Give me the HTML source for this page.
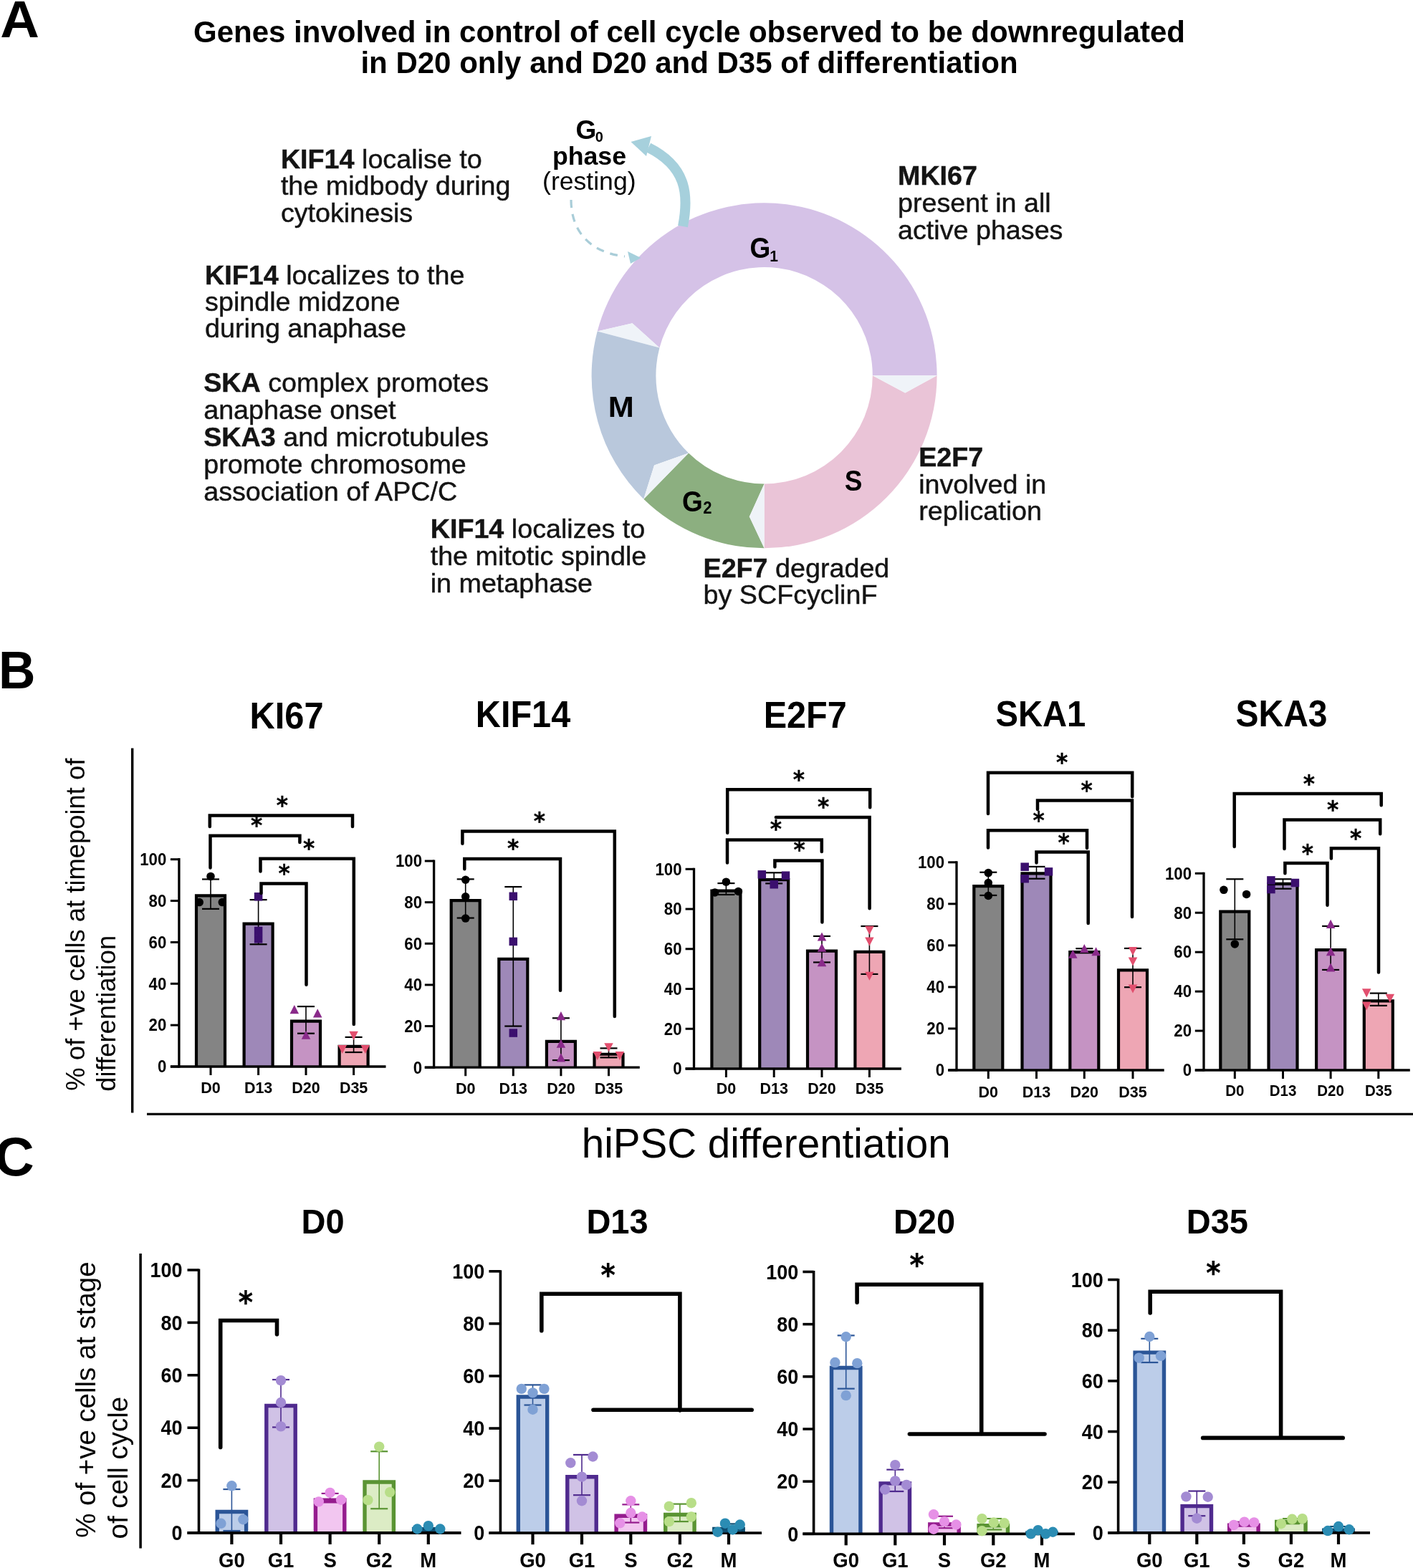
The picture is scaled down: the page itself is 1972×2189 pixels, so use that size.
<!DOCTYPE html>
<html><head><meta charset="utf-8"><title>Figure</title>
<style>html,body{margin:0;padding:0;background:#fff;}svg{display:block;}</style>
</head><body>
<svg xmlns="http://www.w3.org/2000/svg" width="1972" height="2189" viewBox="0 0 1972 2189" font-family="'Liberation Sans', Arial, Helvetica, sans-serif">
<rect width="100%" height="100%" fill="#fff"/>
<text transform="translate(0.2,51.9) scale(1.045,1)" font-size="72.4" font-weight="bold">A</text>
<text transform="translate(-2,960.8) scale(0.965,1)" font-size="73.8" font-weight="bold">B</text>
<text x="-7.6" y="1640.6" font-size="76.5" font-weight="bold" text-anchor="start" fill="#000">C</text>
<text x="962" y="58.5" font-size="42" font-weight="bold" text-anchor="middle" fill="#000">Genes involved in control of cell cycle observed to be downregulated</text>
<text x="962" y="102" font-size="42" font-weight="bold" text-anchor="middle" fill="#000">in D20 only and D20 and D35 of differentiation</text>
<path d="M833.65,462.53 A241,241 0 0 1 1307.6,524.3 L1217.8,524.3 A151.2,151.2 0 0 0 920.45,485.55 L882.47,451.21 Z" fill="#d5c2e7"/>
<path d="M833.65,462.53 L882.47,451.21 L920.45,485.55 Z" fill="#eff3f8"/>
<path d="M1307.6,524.3 A241,241 0 0 1 1066.6,765.3 L1066.6,675.5 A151.2,151.2 0 0 0 1217.8,524.3 L1263.22,548.44 Z" fill="#eac4d7"/>
<path d="M1307.6,524.3 L1263.22,548.44 L1217.8,524.3 Z" fill="#eff3f8"/>
<path d="M1066.6,765.3 A241,241 0 0 1 898.28,696.78 L961,632.51 A151.2,151.2 0 0 0 1066.6,675.5 L1045.89,721.31 Z" fill="#8caf80"/>
<path d="M1066.6,765.3 L1045.89,721.31 L1066.6,675.5 Z" fill="#eff3f8"/>
<path d="M898.28,696.78 A241,241 0 0 1 833.65,462.53 L920.45,485.55 A151.2,151.2 0 0 0 961,632.51 L913.08,649.51 Z" fill="#b9c8dc"/>
<path d="M898.28,696.78 L913.08,649.51 L961,632.51 Z" fill="#eff3f8"/>
<text transform="translate(1046.5,360.4) scale(1,1.08)" font-size="37" font-weight="bold" text-anchor="start">G<tspan font-size="21" dy="3.9" dx="-1">1</tspan></text>
<text transform="translate(952,713.5) scale(1,1.1)" font-size="37" font-weight="bold" text-anchor="start">G<tspan font-size="22" dy="3.2" dx="0.5">2</tspan></text>
<text transform="translate(1191,685) scale(1,1.1)" font-size="37" font-weight="bold" text-anchor="middle">S</text>
<text transform="translate(866.9,581.9) scale(1.17,1.1)" font-size="37" font-weight="bold" text-anchor="middle">M</text>
<path d="M953,316 C962,270 957,232 905,206" fill="none" stroke="#a6d0dc" stroke-width="14"/>
<path d="M880.5,198 L909,190 L902,218 Z" fill="#a6d0dc"/>
<path d="M797,279 C797,320 820,352 872,358" fill="none" stroke="#a9cdd8" stroke-width="3.2" stroke-dasharray="11,9"/>
<path d="M894.5,360 L876,351 L880,368 Z" fill="#a6d0dc"/>
<text x="803.5" y="193.6" font-size="37" font-weight="bold" text-anchor="start" fill="#000">G<tspan font-size="20" dy="4" dx="-1.5">0</tspan></text>
<text x="822.5" y="230" font-size="35.7" font-weight="bold" text-anchor="middle" fill="#000">phase</text>
<text x="822.3" y="264.5" font-size="35.6" text-anchor="middle" fill="#000">(resting)</text>
<text x="391.9" y="235" font-size="37.7" fill="#141414" stroke="#141414" stroke-width="0.45"><tspan font-weight="bold">KIF14</tspan> localise to</text>
<text x="391.9" y="272.35" font-size="37.7" fill="#141414" stroke="#141414" stroke-width="0.45">the midbody during</text>
<text x="391.9" y="309.7" font-size="37.7" fill="#141414" stroke="#141414" stroke-width="0.45">cytokinesis</text>
<text x="286.1" y="397" font-size="37.7" fill="#141414" stroke="#141414" stroke-width="0.45"><tspan font-weight="bold">KIF14</tspan> localizes to the</text>
<text x="286.1" y="434.1" font-size="37.7" fill="#141414" stroke="#141414" stroke-width="0.45">spindle midzone</text>
<text x="286.1" y="471.2" font-size="37.7" fill="#141414" stroke="#141414" stroke-width="0.45">during anaphase</text>
<text x="284.2" y="547.3" font-size="37.7" fill="#141414" stroke="#141414" stroke-width="0.45"><tspan font-weight="bold">SKA</tspan> complex promotes</text>
<text x="284.2" y="585.1" font-size="37.7" fill="#141414" stroke="#141414" stroke-width="0.45">anaphase onset</text>
<text x="284.2" y="622.9" font-size="37.7" fill="#141414" stroke="#141414" stroke-width="0.45"><tspan font-weight="bold">SKA3</tspan> and microtubules</text>
<text x="284.2" y="660.7" font-size="37.7" fill="#141414" stroke="#141414" stroke-width="0.45">promote chromosome</text>
<text x="284.2" y="698.5" font-size="37.7" fill="#141414" stroke="#141414" stroke-width="0.45">association of APC/C</text>
<text x="600.7" y="750.5" font-size="37.7" fill="#141414" stroke="#141414" stroke-width="0.45"><tspan font-weight="bold">KIF14</tspan> localizes to</text>
<text x="600.7" y="788.7" font-size="37.7" fill="#141414" stroke="#141414" stroke-width="0.45">the mitotic spindle</text>
<text x="600.7" y="826.9" font-size="37.7" fill="#141414" stroke="#141414" stroke-width="0.45">in metaphase</text>
<text x="981.5" y="806.2" font-size="37.7" fill="#141414" stroke="#141414" stroke-width="0.45"><tspan font-weight="bold">E2F7</tspan> degraded</text>
<text x="981.5" y="843.1" font-size="37.7" fill="#141414" stroke="#141414" stroke-width="0.45">by SCFcyclinF</text>
<text x="1282.2" y="650.8" font-size="37.7" fill="#141414" stroke="#141414" stroke-width="0.45"><tspan font-weight="bold">E2F7</tspan></text>
<text x="1282.2" y="688.5" font-size="37.7" fill="#141414" stroke="#141414" stroke-width="0.45">involved in</text>
<text x="1282.2" y="726.2" font-size="37.7" fill="#141414" stroke="#141414" stroke-width="0.45">replication</text>
<text x="1253" y="258.3" font-size="37.7" fill="#141414" stroke="#141414" stroke-width="0.45"><tspan font-weight="bold">MKI67</tspan></text>
<text x="1253" y="296.3" font-size="37.7" fill="#141414" stroke="#141414" stroke-width="0.45">present in all</text>
<text x="1253" y="334.3" font-size="37.7" fill="#141414" stroke="#141414" stroke-width="0.45">active phases</text>
<line x1="184.7" y1="1044.4" x2="184.7" y2="1553.6" stroke="#000" stroke-width="3.4" stroke-linecap="butt"/>
<line x1="205" y1="1555.4" x2="1972" y2="1555.4" stroke="#000" stroke-width="3.2" stroke-linecap="butt"/>
<text x="1069.2" y="1616.2" font-size="56.6" text-anchor="middle" fill="#000">hiPSC differentiation</text>
<text transform="translate(117.6,1522.8) rotate(-90)" font-size="36.4" fill="#000">% of +ve cells at timepoint of</text>
<text transform="translate(161,1523.7) rotate(-90)" font-size="36.4" fill="#000">differentiation</text>
<text transform="translate(400,1016.5) scale(1,1.07)" font-size="48.8" font-weight="bold" text-anchor="middle" fill="#000">KI67</text>
<path d="M274,1489 L274,1250.33 L314,1250.33 L314,1489" fill="#848484" stroke="#000" stroke-width="4.2"/>
<path d="M340.6,1489 L340.6,1289.67 L380.6,1289.67 L380.6,1489" fill="#9e88b8" stroke="#000" stroke-width="4.2"/>
<path d="M407,1489 L407,1425.64 L447,1425.64 L447,1489" fill="#c593c3" stroke="#000" stroke-width="4.2"/>
<path d="M473.6,1489 L473.6,1460.94 L513.6,1460.94 L513.6,1489" fill="#eea6b4" stroke="#000" stroke-width="4.2"/>
<line x1="249.9" y1="1198.1" x2="249.9" y2="1490.6" stroke="#000" stroke-width="3.3" stroke-linecap="butt"/>
<line x1="237.9" y1="1489" x2="538.5" y2="1489" stroke="#000" stroke-width="3.3" stroke-linecap="butt"/>
<line x1="237.9" y1="1489" x2="249.9" y2="1489" stroke="#000" stroke-width="3" stroke-linecap="butt"/>
<text transform="translate(232.3,1497.3) scale(1,1.05)" font-size="22.2" font-weight="bold" text-anchor="end" fill="#000">0</text>
<line x1="237.9" y1="1431.14" x2="249.9" y2="1431.14" stroke="#000" stroke-width="3" stroke-linecap="butt"/>
<text transform="translate(232.3,1439.44) scale(1,1.05)" font-size="22.2" font-weight="bold" text-anchor="end" fill="#000">20</text>
<line x1="237.9" y1="1373.28" x2="249.9" y2="1373.28" stroke="#000" stroke-width="3" stroke-linecap="butt"/>
<text transform="translate(232.3,1381.58) scale(1,1.05)" font-size="22.2" font-weight="bold" text-anchor="end" fill="#000">40</text>
<line x1="237.9" y1="1315.42" x2="249.9" y2="1315.42" stroke="#000" stroke-width="3" stroke-linecap="butt"/>
<text transform="translate(232.3,1323.72) scale(1,1.05)" font-size="22.2" font-weight="bold" text-anchor="end" fill="#000">60</text>
<line x1="237.9" y1="1257.56" x2="249.9" y2="1257.56" stroke="#000" stroke-width="3" stroke-linecap="butt"/>
<text transform="translate(232.3,1265.86) scale(1,1.05)" font-size="22.2" font-weight="bold" text-anchor="end" fill="#000">80</text>
<line x1="237.9" y1="1199.7" x2="249.9" y2="1199.7" stroke="#000" stroke-width="3" stroke-linecap="butt"/>
<text transform="translate(232.3,1208) scale(1,1.05)" font-size="22.2" font-weight="bold" text-anchor="end" fill="#000">100</text>
<line x1="294" y1="1489" x2="294" y2="1501" stroke="#000" stroke-width="3" stroke-linecap="butt"/>
<text transform="translate(294,1526.4) scale(1,1.04)" font-size="21.5" font-weight="bold" text-anchor="middle" fill="#000">D0</text>
<line x1="360.6" y1="1489" x2="360.6" y2="1501" stroke="#000" stroke-width="3" stroke-linecap="butt"/>
<text transform="translate(360.6,1526.4) scale(1,1.04)" font-size="21.5" font-weight="bold" text-anchor="middle" fill="#000">D13</text>
<line x1="427" y1="1489" x2="427" y2="1501" stroke="#000" stroke-width="3" stroke-linecap="butt"/>
<text transform="translate(427,1526.4) scale(1,1.04)" font-size="21.5" font-weight="bold" text-anchor="middle" fill="#000">D20</text>
<line x1="493.6" y1="1489" x2="493.6" y2="1501" stroke="#000" stroke-width="3" stroke-linecap="butt"/>
<text transform="translate(493.6,1526.4) scale(1,1.04)" font-size="21.5" font-weight="bold" text-anchor="middle" fill="#000">D35</text>
<line x1="294" y1="1268.84" x2="294" y2="1227.47" stroke="#000" stroke-width="1.6" stroke-linecap="butt"/>
<line x1="282" y1="1227.47" x2="306" y2="1227.47" stroke="#000" stroke-width="2.2" stroke-linecap="butt"/>
<line x1="282" y1="1268.84" x2="306" y2="1268.84" stroke="#000" stroke-width="2.2" stroke-linecap="butt"/>
<line x1="360.6" y1="1318.31" x2="360.6" y2="1256.11" stroke="#000" stroke-width="1.6" stroke-linecap="butt"/>
<line x1="348.6" y1="1256.11" x2="372.6" y2="1256.11" stroke="#000" stroke-width="2.2" stroke-linecap="butt"/>
<line x1="348.6" y1="1318.31" x2="372.6" y2="1318.31" stroke="#000" stroke-width="2.2" stroke-linecap="butt"/>
<line x1="427" y1="1442.71" x2="427" y2="1405.1" stroke="#000" stroke-width="1.6" stroke-linecap="butt"/>
<line x1="415" y1="1405.1" x2="439" y2="1405.1" stroke="#000" stroke-width="2.2" stroke-linecap="butt"/>
<line x1="415" y1="1442.71" x2="439" y2="1442.71" stroke="#000" stroke-width="2.2" stroke-linecap="butt"/>
<line x1="493.6" y1="1469.04" x2="493.6" y2="1447.92" stroke="#000" stroke-width="1.6" stroke-linecap="butt"/>
<line x1="481.6" y1="1447.92" x2="505.6" y2="1447.92" stroke="#000" stroke-width="2.2" stroke-linecap="butt"/>
<line x1="481.6" y1="1469.04" x2="505.6" y2="1469.04" stroke="#000" stroke-width="2.2" stroke-linecap="butt"/>
<circle cx="294" cy="1223.42" r="5.75" fill="#000000"/>
<circle cx="278.2" cy="1259.59" r="5.75" fill="#000000"/>
<circle cx="310.3" cy="1259.59" r="5.75" fill="#000000"/>
<rect x="354.85" y="1246.02" width="11.5" height="11.5" fill="#3b0f6e"/>
<rect x="354.85" y="1293.76" width="11.5" height="11.5" fill="#3b0f6e"/>
<rect x="354.85" y="1305.04" width="11.5" height="11.5" fill="#3b0f6e"/>
<path d="M410.8,1403.12 L417.05,1415.2 L404.55,1415.2 Z" fill="#8a2a8a"/>
<path d="M443.2,1408.33 L449.45,1420.4 L436.95,1420.4 Z" fill="#8a2a8a"/>
<path d="M427,1438.7 L433.25,1450.78 L420.75,1450.78 Z" fill="#8a2a8a"/>
<path d="M493.6,1451.93 L499.85,1439.85 L487.35,1439.85 Z" fill="#e24f6e"/>
<path d="M477.8,1471.02 L484.05,1458.95 L471.55,1458.95 Z" fill="#e24f6e"/>
<path d="M509.8,1471.02 L516.05,1458.95 L503.55,1458.95 Z" fill="#e24f6e"/>
<path d="M292.8,1154 L292.8,1138.5 L492,1138.5 L492,1154" fill="none" stroke="#000" stroke-width="4.5" stroke-linecap="round" stroke-linejoin="miter"/>
<text transform="translate(393.7,1120) scale(0.94,1)" x="-8.42" y="16.04" font-size="33" font-family="'DejaVu Sans', sans-serif" font-weight="bold" stroke="#000" stroke-width="0.35">*</text>
<path d="M293.5,1211.5 L293.5,1166.8 L418.4,1166.8 L418.4,1176" fill="none" stroke="#000" stroke-width="4.5" stroke-linecap="round" stroke-linejoin="miter"/>
<text transform="translate(357.8,1147.6) scale(0.94,1)" x="-8.42" y="16.04" font-size="33" font-family="'DejaVu Sans', sans-serif" font-weight="bold" stroke="#000" stroke-width="0.35">*</text>
<path d="M363.5,1216.6 L363.5,1198.8 L493.8,1198.8 L493.8,1430" fill="none" stroke="#000" stroke-width="4.5" stroke-linecap="round" stroke-linejoin="miter"/>
<text transform="translate(430.8,1179.6) scale(0.94,1)" x="-8.42" y="16.04" font-size="33" font-family="'DejaVu Sans', sans-serif" font-weight="bold" stroke="#000" stroke-width="0.35">*</text>
<path d="M364.5,1247 L364.5,1233.4 L427.5,1233.4 L427.5,1374.8" fill="none" stroke="#000" stroke-width="4.5" stroke-linecap="round" stroke-linejoin="miter"/>
<text transform="translate(396.5,1215) scale(0.94,1)" x="-8.42" y="16.04" font-size="33" font-family="'DejaVu Sans', sans-serif" font-weight="bold" stroke="#000" stroke-width="0.35">*</text>
<text transform="translate(730,1015.4) scale(1,1.07)" font-size="48.6" font-weight="bold" text-anchor="middle" fill="#000">KIF14</text>
<path d="M629.7,1490.2 L629.7,1257.05 L669.7,1257.05 L669.7,1490.2" fill="#848484" stroke="#000" stroke-width="4.2"/>
<path d="M696.3,1490.2 L696.3,1338.89 L736.3,1338.89 L736.3,1490.2" fill="#9e88b8" stroke="#000" stroke-width="4.2"/>
<path d="M762.9,1490.2 L762.9,1453.89 L802.9,1453.89 L802.9,1490.2" fill="#c593c3" stroke="#000" stroke-width="4.2"/>
<path d="M829.5,1490.2 L829.5,1471.76 L869.5,1471.76 L869.5,1490.2" fill="#eea6b4" stroke="#000" stroke-width="4.2"/>
<line x1="605.6" y1="1200.4" x2="605.6" y2="1491.8" stroke="#000" stroke-width="3.3" stroke-linecap="butt"/>
<line x1="592.8" y1="1490.2" x2="892.8" y2="1490.2" stroke="#000" stroke-width="3.3" stroke-linecap="butt"/>
<line x1="592.8" y1="1490.2" x2="605.6" y2="1490.2" stroke="#000" stroke-width="3" stroke-linecap="butt"/>
<text transform="translate(589,1498.5) scale(1,1.05)" font-size="22.2" font-weight="bold" text-anchor="end" fill="#000">0</text>
<line x1="592.8" y1="1432.56" x2="605.6" y2="1432.56" stroke="#000" stroke-width="3" stroke-linecap="butt"/>
<text transform="translate(589,1440.86) scale(1,1.05)" font-size="22.2" font-weight="bold" text-anchor="end" fill="#000">20</text>
<line x1="592.8" y1="1374.92" x2="605.6" y2="1374.92" stroke="#000" stroke-width="3" stroke-linecap="butt"/>
<text transform="translate(589,1383.22) scale(1,1.05)" font-size="22.2" font-weight="bold" text-anchor="end" fill="#000">40</text>
<line x1="592.8" y1="1317.28" x2="605.6" y2="1317.28" stroke="#000" stroke-width="3" stroke-linecap="butt"/>
<text transform="translate(589,1325.58) scale(1,1.05)" font-size="22.2" font-weight="bold" text-anchor="end" fill="#000">60</text>
<line x1="592.8" y1="1259.64" x2="605.6" y2="1259.64" stroke="#000" stroke-width="3" stroke-linecap="butt"/>
<text transform="translate(589,1267.94) scale(1,1.05)" font-size="22.2" font-weight="bold" text-anchor="end" fill="#000">80</text>
<line x1="592.8" y1="1202" x2="605.6" y2="1202" stroke="#000" stroke-width="3" stroke-linecap="butt"/>
<text transform="translate(589,1210.3) scale(1,1.05)" font-size="22.2" font-weight="bold" text-anchor="end" fill="#000">100</text>
<line x1="649.7" y1="1490.2" x2="649.7" y2="1502.2" stroke="#000" stroke-width="3" stroke-linecap="butt"/>
<text transform="translate(649.7,1527) scale(1,1.04)" font-size="21.5" font-weight="bold" text-anchor="middle" fill="#000">D0</text>
<line x1="716.3" y1="1490.2" x2="716.3" y2="1502.2" stroke="#000" stroke-width="3" stroke-linecap="butt"/>
<text transform="translate(716.3,1527) scale(1,1.04)" font-size="21.5" font-weight="bold" text-anchor="middle" fill="#000">D13</text>
<line x1="782.9" y1="1490.2" x2="782.9" y2="1502.2" stroke="#000" stroke-width="3" stroke-linecap="butt"/>
<text transform="translate(782.9,1527) scale(1,1.04)" font-size="21.5" font-weight="bold" text-anchor="middle" fill="#000">D20</text>
<line x1="849.5" y1="1490.2" x2="849.5" y2="1502.2" stroke="#000" stroke-width="3" stroke-linecap="butt"/>
<text transform="translate(849.5,1527) scale(1,1.04)" font-size="21.5" font-weight="bold" text-anchor="middle" fill="#000">D35</text>
<line x1="649.7" y1="1281.54" x2="649.7" y2="1227.36" stroke="#000" stroke-width="1.6" stroke-linecap="butt"/>
<line x1="637.7" y1="1227.36" x2="661.7" y2="1227.36" stroke="#000" stroke-width="2.2" stroke-linecap="butt"/>
<line x1="637.7" y1="1281.54" x2="661.7" y2="1281.54" stroke="#000" stroke-width="2.2" stroke-linecap="butt"/>
<line x1="716.3" y1="1432.56" x2="716.3" y2="1238.03" stroke="#000" stroke-width="1.6" stroke-linecap="butt"/>
<line x1="704.3" y1="1238.03" x2="728.3" y2="1238.03" stroke="#000" stroke-width="2.2" stroke-linecap="butt"/>
<line x1="704.3" y1="1432.56" x2="728.3" y2="1432.56" stroke="#000" stroke-width="2.2" stroke-linecap="butt"/>
<line x1="782.9" y1="1480.11" x2="782.9" y2="1421.32" stroke="#000" stroke-width="1.6" stroke-linecap="butt"/>
<line x1="770.9" y1="1421.32" x2="794.9" y2="1421.32" stroke="#000" stroke-width="2.2" stroke-linecap="butt"/>
<line x1="770.9" y1="1480.11" x2="794.9" y2="1480.11" stroke="#000" stroke-width="2.2" stroke-linecap="butt"/>
<line x1="849.5" y1="1476.37" x2="849.5" y2="1463.4" stroke="#000" stroke-width="1.6" stroke-linecap="butt"/>
<line x1="837.5" y1="1463.4" x2="861.5" y2="1463.4" stroke="#000" stroke-width="2.2" stroke-linecap="butt"/>
<line x1="837.5" y1="1476.37" x2="861.5" y2="1476.37" stroke="#000" stroke-width="2.2" stroke-linecap="butt"/>
<circle cx="649.7" cy="1228.23" r="5.75" fill="#000000"/>
<circle cx="649.7" cy="1251.86" r="5.75" fill="#000000"/>
<circle cx="649.7" cy="1282.12" r="5.75" fill="#000000"/>
<rect x="710.55" y="1245.53" width="11.5" height="11.5" fill="#3b0f6e"/>
<rect x="710.55" y="1308.65" width="11.5" height="11.5" fill="#3b0f6e"/>
<rect x="710.55" y="1436.32" width="11.5" height="11.5" fill="#3b0f6e"/>
<path d="M782.9,1412.11 L789.15,1424.19 L776.65,1424.19 Z" fill="#8a2a8a"/>
<path d="M782.9,1450.73 L789.15,1462.81 L776.65,1462.81 Z" fill="#8a2a8a"/>
<path d="M782.9,1470.33 L789.15,1482.41 L776.65,1482.41 Z" fill="#8a2a8a"/>
<path d="M849.5,1468.28 L855.75,1456.21 L843.25,1456.21 Z" fill="#e24f6e"/>
<path d="M833.8,1480.1 L840.05,1468.02 L827.55,1468.02 Z" fill="#e24f6e"/>
<path d="M864.9,1480.1 L871.15,1468.02 L858.65,1468.02 Z" fill="#e24f6e"/>
<path d="M645.4,1177.7 L645.4,1160.4 L857.8,1160.4 L857.8,1419" fill="none" stroke="#000" stroke-width="4.5" stroke-linecap="round" stroke-linejoin="miter"/>
<text transform="translate(752.6,1142) scale(0.94,1)" x="-8.42" y="16.04" font-size="33" font-family="'DejaVu Sans', sans-serif" font-weight="bold" stroke="#000" stroke-width="0.35">*</text>
<path d="M648.3,1213.3 L648.3,1199 L782,1199 L782,1382.7" fill="none" stroke="#000" stroke-width="4.5" stroke-linecap="round" stroke-linejoin="miter"/>
<text transform="translate(716,1180) scale(0.94,1)" x="-8.42" y="16.04" font-size="33" font-family="'DejaVu Sans', sans-serif" font-weight="bold" stroke="#000" stroke-width="0.35">*</text>
<text transform="translate(1123.7,1016.3) scale(1,1.07)" font-size="48.6" font-weight="bold" text-anchor="middle" fill="#000">E2F7</text>
<path d="M993.4,1492 L993.4,1243.68 L1033.4,1243.68 L1033.4,1492" fill="#848484" stroke="#000" stroke-width="4.2"/>
<path d="M1060.2,1492 L1060.2,1228.07 L1100.2,1228.07 L1100.2,1492" fill="#9e88b8" stroke="#000" stroke-width="4.2"/>
<path d="M1127,1492 L1127,1327.57 L1167,1327.57 L1167,1492" fill="#c593c3" stroke="#000" stroke-width="4.2"/>
<path d="M1193.4,1492 L1193.4,1328.96 L1233.4,1328.96 L1233.4,1492" fill="#eea6b4" stroke="#000" stroke-width="4.2"/>
<line x1="968.5" y1="1211.7" x2="968.5" y2="1493.6" stroke="#000" stroke-width="3.3" stroke-linecap="butt"/>
<line x1="956.6" y1="1492" x2="1257.9" y2="1492" stroke="#000" stroke-width="3.3" stroke-linecap="butt"/>
<line x1="956.6" y1="1492" x2="968.5" y2="1492" stroke="#000" stroke-width="3" stroke-linecap="butt"/>
<text transform="translate(951.5,1500.3) scale(1,1.05)" font-size="22.2" font-weight="bold" text-anchor="end" fill="#000">0</text>
<line x1="956.6" y1="1436.26" x2="968.5" y2="1436.26" stroke="#000" stroke-width="3" stroke-linecap="butt"/>
<text transform="translate(951.5,1444.56) scale(1,1.05)" font-size="22.2" font-weight="bold" text-anchor="end" fill="#000">20</text>
<line x1="956.6" y1="1380.52" x2="968.5" y2="1380.52" stroke="#000" stroke-width="3" stroke-linecap="butt"/>
<text transform="translate(951.5,1388.82) scale(1,1.05)" font-size="22.2" font-weight="bold" text-anchor="end" fill="#000">40</text>
<line x1="956.6" y1="1324.78" x2="968.5" y2="1324.78" stroke="#000" stroke-width="3" stroke-linecap="butt"/>
<text transform="translate(951.5,1333.08) scale(1,1.05)" font-size="22.2" font-weight="bold" text-anchor="end" fill="#000">60</text>
<line x1="956.6" y1="1269.04" x2="968.5" y2="1269.04" stroke="#000" stroke-width="3" stroke-linecap="butt"/>
<text transform="translate(951.5,1277.34) scale(1,1.05)" font-size="22.2" font-weight="bold" text-anchor="end" fill="#000">80</text>
<line x1="956.6" y1="1213.3" x2="968.5" y2="1213.3" stroke="#000" stroke-width="3" stroke-linecap="butt"/>
<text transform="translate(951.5,1221.6) scale(1,1.05)" font-size="22.2" font-weight="bold" text-anchor="end" fill="#000">100</text>
<line x1="1013.4" y1="1492" x2="1013.4" y2="1504" stroke="#000" stroke-width="3" stroke-linecap="butt"/>
<text transform="translate(1013.4,1527) scale(1,1.04)" font-size="21.5" font-weight="bold" text-anchor="middle" fill="#000">D0</text>
<line x1="1080.2" y1="1492" x2="1080.2" y2="1504" stroke="#000" stroke-width="3" stroke-linecap="butt"/>
<text transform="translate(1080.2,1527) scale(1,1.04)" font-size="21.5" font-weight="bold" text-anchor="middle" fill="#000">D13</text>
<line x1="1147" y1="1492" x2="1147" y2="1504" stroke="#000" stroke-width="3" stroke-linecap="butt"/>
<text transform="translate(1147,1527) scale(1,1.04)" font-size="21.5" font-weight="bold" text-anchor="middle" fill="#000">D20</text>
<line x1="1213.4" y1="1492" x2="1213.4" y2="1504" stroke="#000" stroke-width="3" stroke-linecap="butt"/>
<text transform="translate(1213.4,1527) scale(1,1.04)" font-size="21.5" font-weight="bold" text-anchor="middle" fill="#000">D35</text>
<line x1="1013.4" y1="1248.97" x2="1013.4" y2="1233.09" stroke="#000" stroke-width="1.6" stroke-linecap="butt"/>
<line x1="1001.4" y1="1233.09" x2="1025.4" y2="1233.09" stroke="#000" stroke-width="2.2" stroke-linecap="butt"/>
<line x1="1001.4" y1="1248.97" x2="1025.4" y2="1248.97" stroke="#000" stroke-width="2.2" stroke-linecap="butt"/>
<line x1="1080.2" y1="1233.37" x2="1080.2" y2="1218.32" stroke="#000" stroke-width="1.6" stroke-linecap="butt"/>
<line x1="1068.2" y1="1218.32" x2="1092.2" y2="1218.32" stroke="#000" stroke-width="2.2" stroke-linecap="butt"/>
<line x1="1068.2" y1="1233.37" x2="1092.2" y2="1233.37" stroke="#000" stroke-width="2.2" stroke-linecap="butt"/>
<line x1="1147" y1="1343.45" x2="1147" y2="1306.94" stroke="#000" stroke-width="1.6" stroke-linecap="butt"/>
<line x1="1135" y1="1306.94" x2="1159" y2="1306.94" stroke="#000" stroke-width="2.2" stroke-linecap="butt"/>
<line x1="1135" y1="1343.45" x2="1159" y2="1343.45" stroke="#000" stroke-width="2.2" stroke-linecap="butt"/>
<line x1="1213.4" y1="1359.9" x2="1213.4" y2="1293.01" stroke="#000" stroke-width="1.6" stroke-linecap="butt"/>
<line x1="1201.4" y1="1293.01" x2="1225.4" y2="1293.01" stroke="#000" stroke-width="2.2" stroke-linecap="butt"/>
<line x1="1201.4" y1="1359.9" x2="1225.4" y2="1359.9" stroke="#000" stroke-width="2.2" stroke-linecap="butt"/>
<circle cx="1013.4" cy="1231.14" r="5.75" fill="#000000"/>
<circle cx="997.7" cy="1245.91" r="5.75" fill="#000000"/>
<circle cx="1030.4" cy="1244.51" r="5.75" fill="#000000"/>
<rect x="1057.55" y="1215.07" width="11.5" height="11.5" fill="#3b0f6e"/>
<rect x="1090.75" y="1216.47" width="11.5" height="11.5" fill="#3b0f6e"/>
<rect x="1074.45" y="1229.01" width="11.5" height="11.5" fill="#3b0f6e"/>
<path d="M1147,1301.44 L1153.25,1313.51 L1140.75,1313.51 Z" fill="#8a2a8a"/>
<path d="M1147,1316.77 L1153.25,1328.84 L1140.75,1328.84 Z" fill="#8a2a8a"/>
<path d="M1147,1337.11 L1153.25,1349.19 L1140.75,1349.19 Z" fill="#8a2a8a"/>
<path d="M1213.4,1304.92 L1219.65,1292.85 L1207.15,1292.85 Z" fill="#e24f6e"/>
<path d="M1213.4,1320.53 L1219.65,1308.46 L1207.15,1308.46 Z" fill="#e24f6e"/>
<path d="M1213.4,1368.75 L1219.65,1356.67 L1207.15,1356.67 Z" fill="#e24f6e"/>
<path d="M1015.2,1162.8 L1015.2,1102.2 L1214.2,1102.2 L1214.2,1127.2" fill="none" stroke="#000" stroke-width="4.5" stroke-linecap="round" stroke-linejoin="miter"/>
<text transform="translate(1114.7,1084) scale(0.94,1)" x="-8.42" y="16.04" font-size="33" font-family="'DejaVu Sans', sans-serif" font-weight="bold" stroke="#000" stroke-width="0.35">*</text>
<path d="M1082.9,1141.1 L1082.9,1141.1 L1213.6,1141.1 L1213.6,1268.3" fill="none" stroke="#000" stroke-width="4.5" stroke-linecap="round" stroke-linejoin="miter"/>
<text transform="translate(1148.9,1121.8) scale(0.94,1)" x="-8.42" y="16.04" font-size="33" font-family="'DejaVu Sans', sans-serif" font-weight="bold" stroke="#000" stroke-width="0.35">*</text>
<path d="M1015,1204.4 L1015,1172.6 L1146.8,1172.6 L1146.8,1189" fill="none" stroke="#000" stroke-width="4.5" stroke-linecap="round" stroke-linejoin="miter"/>
<text transform="translate(1082.6,1153.3) scale(0.94,1)" x="-8.42" y="16.04" font-size="33" font-family="'DejaVu Sans', sans-serif" font-weight="bold" stroke="#000" stroke-width="0.35">*</text>
<path d="M1081.4,1210.3 L1081.4,1201.4 L1147.4,1201.4 L1147.4,1287.6" fill="none" stroke="#000" stroke-width="4.5" stroke-linecap="round" stroke-linejoin="miter"/>
<text transform="translate(1115.3,1182) scale(0.94,1)" x="-8.42" y="16.04" font-size="33" font-family="'DejaVu Sans', sans-serif" font-weight="bold" stroke="#000" stroke-width="0.35">*</text>
<text transform="translate(1452.4,1013.8) scale(1,1.07)" font-size="47.2" font-weight="bold" text-anchor="middle" fill="#000">SKA1</text>
<path d="M1359.3,1494 L1359.3,1237.17 L1399.3,1237.17 L1399.3,1494" fill="#848484" stroke="#000" stroke-width="4.2"/>
<path d="M1426.5,1494 L1426.5,1219.47 L1466.5,1219.47 L1466.5,1494" fill="#9e88b8" stroke="#000" stroke-width="4.2"/>
<path d="M1493.3,1494 L1493.3,1329.17 L1533.3,1329.17 L1533.3,1494" fill="#c593c3" stroke="#000" stroke-width="4.2"/>
<path d="M1561,1494 L1561,1354.41 L1601,1354.41 L1601,1494" fill="#eea6b4" stroke="#000" stroke-width="4.2"/>
<line x1="1335" y1="1202.2" x2="1335" y2="1495.6" stroke="#000" stroke-width="3.3" stroke-linecap="butt"/>
<line x1="1323.2" y1="1494" x2="1624.7" y2="1494" stroke="#000" stroke-width="3.3" stroke-linecap="butt"/>
<line x1="1323.2" y1="1494" x2="1335" y2="1494" stroke="#000" stroke-width="3" stroke-linecap="butt"/>
<text transform="translate(1318,1502.3) scale(1,1.05)" font-size="22.2" font-weight="bold" text-anchor="end" fill="#000">0</text>
<line x1="1323.2" y1="1435.96" x2="1335" y2="1435.96" stroke="#000" stroke-width="3" stroke-linecap="butt"/>
<text transform="translate(1318,1444.26) scale(1,1.05)" font-size="22.2" font-weight="bold" text-anchor="end" fill="#000">20</text>
<line x1="1323.2" y1="1377.92" x2="1335" y2="1377.92" stroke="#000" stroke-width="3" stroke-linecap="butt"/>
<text transform="translate(1318,1386.22) scale(1,1.05)" font-size="22.2" font-weight="bold" text-anchor="end" fill="#000">40</text>
<line x1="1323.2" y1="1319.88" x2="1335" y2="1319.88" stroke="#000" stroke-width="3" stroke-linecap="butt"/>
<text transform="translate(1318,1328.18) scale(1,1.05)" font-size="22.2" font-weight="bold" text-anchor="end" fill="#000">60</text>
<line x1="1323.2" y1="1261.84" x2="1335" y2="1261.84" stroke="#000" stroke-width="3" stroke-linecap="butt"/>
<text transform="translate(1318,1270.14) scale(1,1.05)" font-size="22.2" font-weight="bold" text-anchor="end" fill="#000">80</text>
<line x1="1323.2" y1="1203.8" x2="1335" y2="1203.8" stroke="#000" stroke-width="3" stroke-linecap="butt"/>
<text transform="translate(1318,1212.1) scale(1,1.05)" font-size="22.2" font-weight="bold" text-anchor="end" fill="#000">100</text>
<line x1="1379.3" y1="1494" x2="1379.3" y2="1506" stroke="#000" stroke-width="3" stroke-linecap="butt"/>
<text transform="translate(1379.3,1531.9) scale(1,1.04)" font-size="21.5" font-weight="bold" text-anchor="middle" fill="#000">D0</text>
<line x1="1446.5" y1="1494" x2="1446.5" y2="1506" stroke="#000" stroke-width="3" stroke-linecap="butt"/>
<text transform="translate(1446.5,1531.9) scale(1,1.04)" font-size="21.5" font-weight="bold" text-anchor="middle" fill="#000">D13</text>
<line x1="1513.3" y1="1494" x2="1513.3" y2="1506" stroke="#000" stroke-width="3" stroke-linecap="butt"/>
<text transform="translate(1513.3,1531.9) scale(1,1.04)" font-size="21.5" font-weight="bold" text-anchor="middle" fill="#000">D20</text>
<line x1="1581" y1="1494" x2="1581" y2="1506" stroke="#000" stroke-width="3" stroke-linecap="butt"/>
<text transform="translate(1581,1531.9) scale(1,1.04)" font-size="21.5" font-weight="bold" text-anchor="middle" fill="#000">D35</text>
<line x1="1379.3" y1="1249.94" x2="1379.3" y2="1217.73" stroke="#000" stroke-width="1.6" stroke-linecap="butt"/>
<line x1="1367.3" y1="1217.73" x2="1391.3" y2="1217.73" stroke="#000" stroke-width="2.2" stroke-linecap="butt"/>
<line x1="1367.3" y1="1249.94" x2="1391.3" y2="1249.94" stroke="#000" stroke-width="2.2" stroke-linecap="butt"/>
<line x1="1446.5" y1="1226.73" x2="1446.5" y2="1209.89" stroke="#000" stroke-width="1.6" stroke-linecap="butt"/>
<line x1="1434.5" y1="1209.89" x2="1458.5" y2="1209.89" stroke="#000" stroke-width="2.2" stroke-linecap="butt"/>
<line x1="1434.5" y1="1226.73" x2="1458.5" y2="1226.73" stroke="#000" stroke-width="2.2" stroke-linecap="butt"/>
<line x1="1513.3" y1="1330.04" x2="1513.3" y2="1324.23" stroke="#000" stroke-width="1.6" stroke-linecap="butt"/>
<line x1="1501.3" y1="1324.23" x2="1525.3" y2="1324.23" stroke="#000" stroke-width="2.2" stroke-linecap="butt"/>
<line x1="1501.3" y1="1330.04" x2="1525.3" y2="1330.04" stroke="#000" stroke-width="2.2" stroke-linecap="butt"/>
<line x1="1581" y1="1378.21" x2="1581" y2="1323.94" stroke="#000" stroke-width="1.6" stroke-linecap="butt"/>
<line x1="1569" y1="1323.94" x2="1593" y2="1323.94" stroke="#000" stroke-width="2.2" stroke-linecap="butt"/>
<line x1="1569" y1="1378.21" x2="1593" y2="1378.21" stroke="#000" stroke-width="2.2" stroke-linecap="butt"/>
<circle cx="1379.3" cy="1218.6" r="5.75" fill="#000000"/>
<circle cx="1379.3" cy="1232.53" r="5.75" fill="#000000"/>
<circle cx="1379.3" cy="1250.52" r="5.75" fill="#000000"/>
<rect x="1424.45" y="1204.43" width="11.5" height="11.5" fill="#3b0f6e"/>
<rect x="1457.75" y="1211.11" width="11.5" height="11.5" fill="#3b0f6e"/>
<rect x="1424.45" y="1220.98" width="11.5" height="11.5" fill="#3b0f6e"/>
<path d="M1513.3,1317.91 L1519.55,1329.99 L1507.05,1329.99 Z" fill="#8a2a8a"/>
<path d="M1497.3,1325.75 L1503.55,1337.82 L1491.05,1337.82 Z" fill="#8a2a8a"/>
<path d="M1529.6,1322.27 L1535.85,1334.34 L1523.35,1334.34 Z" fill="#8a2a8a"/>
<path d="M1581,1334.04 L1587.25,1321.96 L1574.75,1321.96 Z" fill="#e24f6e"/>
<path d="M1581,1348.55 L1587.25,1336.47 L1574.75,1336.47 Z" fill="#e24f6e"/>
<path d="M1581,1386.56 L1587.25,1374.49 L1574.75,1374.49 Z" fill="#e24f6e"/>
<path d="M1379,1136 L1379,1078.7 L1580.2,1078.7 L1580.2,1112.3" fill="none" stroke="#000" stroke-width="4.5" stroke-linecap="round" stroke-linejoin="miter"/>
<text transform="translate(1482,1060.3) scale(0.94,1)" x="-8.42" y="16.04" font-size="33" font-family="'DejaVu Sans', sans-serif" font-weight="bold" stroke="#000" stroke-width="0.35">*</text>
<path d="M1448,1130 L1448,1117.4 L1580,1117.4 L1580,1280" fill="none" stroke="#000" stroke-width="4.5" stroke-linecap="round" stroke-linejoin="miter"/>
<text transform="translate(1516.3,1099) scale(0.94,1)" x="-8.42" y="16.04" font-size="33" font-family="'DejaVu Sans', sans-serif" font-weight="bold" stroke="#000" stroke-width="0.35">*</text>
<path d="M1379,1183.6 L1379,1159.3 L1517,1159.3 L1517,1184" fill="none" stroke="#000" stroke-width="4.5" stroke-linecap="round" stroke-linejoin="miter"/>
<text transform="translate(1449.4,1140.5) scale(0.94,1)" x="-8.42" y="16.04" font-size="33" font-family="'DejaVu Sans', sans-serif" font-weight="bold" stroke="#000" stroke-width="0.35">*</text>
<path d="M1446.5,1204.4 L1446.5,1189.5 L1518.7,1189.5 L1518.7,1289" fill="none" stroke="#000" stroke-width="4.5" stroke-linecap="round" stroke-linejoin="miter"/>
<text transform="translate(1484.5,1171.7) scale(0.94,1)" x="-8.42" y="16.04" font-size="33" font-family="'DejaVu Sans', sans-serif" font-weight="bold" stroke="#000" stroke-width="0.35">*</text>
<text transform="translate(1788.5,1013.7) scale(1,1.07)" font-size="48" font-weight="bold" text-anchor="middle" fill="#000">SKA3</text>
<path d="M1703.3,1494 L1703.3,1272.59 L1743.3,1272.59 L1743.3,1494" fill="#848484" stroke="#000" stroke-width="4.2"/>
<path d="M1770.5,1494 L1770.5,1233.86 L1810.5,1233.86 L1810.5,1494" fill="#9e88b8" stroke="#000" stroke-width="4.2"/>
<path d="M1837.1,1494 L1837.1,1326.16 L1877.1,1326.16 L1877.1,1494" fill="#c593c3" stroke="#000" stroke-width="4.2"/>
<path d="M1903.8,1494 L1903.8,1397.31 L1943.8,1397.31 L1943.8,1494" fill="#eea6b4" stroke="#000" stroke-width="4.2"/>
<line x1="1680" y1="1217.7" x2="1680" y2="1495.6" stroke="#000" stroke-width="3.3" stroke-linecap="butt"/>
<line x1="1667.8" y1="1494" x2="1967.8" y2="1494" stroke="#000" stroke-width="3.3" stroke-linecap="butt"/>
<line x1="1667.8" y1="1494" x2="1680" y2="1494" stroke="#000" stroke-width="3" stroke-linecap="butt"/>
<text transform="translate(1663,1502.3) scale(1,1.05)" font-size="22.2" font-weight="bold" text-anchor="end" fill="#000">0</text>
<line x1="1667.8" y1="1439.06" x2="1680" y2="1439.06" stroke="#000" stroke-width="3" stroke-linecap="butt"/>
<text transform="translate(1663,1447.36) scale(1,1.05)" font-size="22.2" font-weight="bold" text-anchor="end" fill="#000">20</text>
<line x1="1667.8" y1="1384.12" x2="1680" y2="1384.12" stroke="#000" stroke-width="3" stroke-linecap="butt"/>
<text transform="translate(1663,1392.42) scale(1,1.05)" font-size="22.2" font-weight="bold" text-anchor="end" fill="#000">40</text>
<line x1="1667.8" y1="1329.18" x2="1680" y2="1329.18" stroke="#000" stroke-width="3" stroke-linecap="butt"/>
<text transform="translate(1663,1337.48) scale(1,1.05)" font-size="22.2" font-weight="bold" text-anchor="end" fill="#000">60</text>
<line x1="1667.8" y1="1274.24" x2="1680" y2="1274.24" stroke="#000" stroke-width="3" stroke-linecap="butt"/>
<text transform="translate(1663,1282.54) scale(1,1.05)" font-size="22.2" font-weight="bold" text-anchor="end" fill="#000">80</text>
<line x1="1667.8" y1="1219.3" x2="1680" y2="1219.3" stroke="#000" stroke-width="3" stroke-linecap="butt"/>
<text transform="translate(1663,1227.6) scale(1,1.05)" font-size="22.2" font-weight="bold" text-anchor="end" fill="#000">100</text>
<line x1="1723.3" y1="1494" x2="1723.3" y2="1506" stroke="#000" stroke-width="3" stroke-linecap="butt"/>
<text transform="translate(1723.3,1530.2) scale(1,1.04)" font-size="20.5" font-weight="bold" text-anchor="middle" fill="#000">D0</text>
<line x1="1790.5" y1="1494" x2="1790.5" y2="1506" stroke="#000" stroke-width="3" stroke-linecap="butt"/>
<text transform="translate(1790.5,1530.2) scale(1,1.04)" font-size="20.5" font-weight="bold" text-anchor="middle" fill="#000">D13</text>
<line x1="1857.1" y1="1494" x2="1857.1" y2="1506" stroke="#000" stroke-width="3" stroke-linecap="butt"/>
<text transform="translate(1857.1,1530.2) scale(1,1.04)" font-size="20.5" font-weight="bold" text-anchor="middle" fill="#000">D20</text>
<line x1="1923.8" y1="1494" x2="1923.8" y2="1506" stroke="#000" stroke-width="3" stroke-linecap="butt"/>
<text transform="translate(1923.8,1530.2) scale(1,1.04)" font-size="20.5" font-weight="bold" text-anchor="middle" fill="#000">D35</text>
<line x1="1723.3" y1="1311.32" x2="1723.3" y2="1227.27" stroke="#000" stroke-width="1.6" stroke-linecap="butt"/>
<line x1="1711.3" y1="1227.27" x2="1735.3" y2="1227.27" stroke="#000" stroke-width="2.2" stroke-linecap="butt"/>
<line x1="1711.3" y1="1311.32" x2="1735.3" y2="1311.32" stroke="#000" stroke-width="2.2" stroke-linecap="butt"/>
<line x1="1790.5" y1="1240.73" x2="1790.5" y2="1227.27" stroke="#000" stroke-width="1.6" stroke-linecap="butt"/>
<line x1="1778.5" y1="1227.27" x2="1802.5" y2="1227.27" stroke="#000" stroke-width="2.2" stroke-linecap="butt"/>
<line x1="1778.5" y1="1240.73" x2="1802.5" y2="1240.73" stroke="#000" stroke-width="2.2" stroke-linecap="butt"/>
<line x1="1857.1" y1="1353.9" x2="1857.1" y2="1292.92" stroke="#000" stroke-width="1.6" stroke-linecap="butt"/>
<line x1="1845.1" y1="1292.92" x2="1869.1" y2="1292.92" stroke="#000" stroke-width="2.2" stroke-linecap="butt"/>
<line x1="1845.1" y1="1353.9" x2="1869.1" y2="1353.9" stroke="#000" stroke-width="2.2" stroke-linecap="butt"/>
<line x1="1923.8" y1="1403.9" x2="1923.8" y2="1386.59" stroke="#000" stroke-width="1.6" stroke-linecap="butt"/>
<line x1="1911.8" y1="1386.59" x2="1935.8" y2="1386.59" stroke="#000" stroke-width="2.2" stroke-linecap="butt"/>
<line x1="1911.8" y1="1403.9" x2="1935.8" y2="1403.9" stroke="#000" stroke-width="2.2" stroke-linecap="butt"/>
<circle cx="1707.9" cy="1242.37" r="5.75" fill="#000000"/>
<circle cx="1739.6" cy="1248.42" r="5.75" fill="#000000"/>
<circle cx="1723.3" cy="1317.92" r="5.75" fill="#000000"/>
<rect x="1768.15" y="1223.16" width="11.5" height="11.5" fill="#3b0f6e"/>
<rect x="1801.65" y="1226.74" width="11.5" height="11.5" fill="#3b0f6e"/>
<rect x="1768.15" y="1235.8" width="11.5" height="11.5" fill="#3b0f6e"/>
<path d="M1857.1,1283.82 L1863.35,1295.9 L1850.85,1295.9 Z" fill="#8a2a8a"/>
<path d="M1857.1,1322.28 L1863.35,1334.36 L1850.85,1334.36 Z" fill="#8a2a8a"/>
<path d="M1857.1,1344.53 L1863.35,1356.61 L1850.85,1356.61 Z" fill="#8a2a8a"/>
<path d="M1907.2,1392.39 L1913.45,1380.32 L1900.95,1380.32 Z" fill="#e24f6e"/>
<path d="M1939.8,1399.81 L1946.05,1387.74 L1933.55,1387.74 Z" fill="#e24f6e"/>
<path d="M1907.2,1410.52 L1913.45,1398.45 L1900.95,1398.45 Z" fill="#e24f6e"/>
<path d="M1722.7,1182 L1722.7,1107.9 L1927.7,1107.9 L1927.7,1124.2" fill="none" stroke="#000" stroke-width="4.5" stroke-linecap="round" stroke-linejoin="miter"/>
<text transform="translate(1826.7,1090) scale(0.94,1)" x="-8.42" y="16.04" font-size="33" font-family="'DejaVu Sans', sans-serif" font-weight="bold" stroke="#000" stroke-width="0.35">*</text>
<path d="M1792.5,1185 L1792.5,1144.4 L1926.2,1144.4 L1926.2,1164.3" fill="none" stroke="#000" stroke-width="4.5" stroke-linecap="round" stroke-linejoin="miter"/>
<text transform="translate(1860,1125.7) scale(0.94,1)" x="-8.42" y="16.04" font-size="33" font-family="'DejaVu Sans', sans-serif" font-weight="bold" stroke="#000" stroke-width="0.35">*</text>
<path d="M1857.9,1198.5 L1857.9,1184.2 L1924,1184.2 L1924,1357.4" fill="none" stroke="#000" stroke-width="4.5" stroke-linecap="round" stroke-linejoin="miter"/>
<text transform="translate(1892,1165.8) scale(0.94,1)" x="-8.42" y="16.04" font-size="33" font-family="'DejaVu Sans', sans-serif" font-weight="bold" stroke="#000" stroke-width="0.35">*</text>
<path d="M1793.4,1219.3 L1793.4,1205 L1852.5,1205 L1852.5,1263.8" fill="none" stroke="#000" stroke-width="4.5" stroke-linecap="round" stroke-linejoin="miter"/>
<text transform="translate(1824.6,1186.6) scale(0.94,1)" x="-8.42" y="16.04" font-size="33" font-family="'DejaVu Sans', sans-serif" font-weight="bold" stroke="#000" stroke-width="0.35">*</text>
<line x1="196.1" y1="1749.9" x2="196.1" y2="2161.5" stroke="#000" stroke-width="3.5" stroke-linecap="butt"/>
<text transform="translate(132.9,2146.7) rotate(-90)" font-size="38.4" fill="#000">% of +ve cells at stage</text>
<text transform="translate(178,2148.4) rotate(-90)" font-size="38.4" fill="#000">of cell cycle</text>
<text transform="translate(450.5,1721.6) scale(1,1.04)" font-size="47" font-weight="bold" text-anchor="middle" fill="#000">D0</text>
<path d="M303.2,2140 L303.2,2110.46 L343.6,2110.46 L343.6,2140" fill="#bccde9" stroke="#2b5597" stroke-width="5.4"/>
<path d="M371.8,2140 L371.8,1962.56 L412.2,1962.56 L412.2,2140" fill="#d0c2e6" stroke="#4f2a8e" stroke-width="5.4"/>
<path d="M440.4,2140 L440.4,2094.31 L480.8,2094.31 L480.8,2140" fill="#f2c6f0" stroke="#951c8e" stroke-width="5.4"/>
<path d="M509,2140 L509,2068.99 L549.4,2068.99 L549.4,2140" fill="#dcecc5" stroke="#5a9433" stroke-width="5.4"/>
<path d="M577.6,2140 L577.6,2134.68 L618,2134.68 L618,2140" fill="#1a6488" stroke="#0f4d70" stroke-width="5.4"/>
<line x1="277.5" y1="1771.4" x2="277.5" y2="2141.6" stroke="#000" stroke-width="3.6" stroke-linecap="butt"/>
<line x1="261.5" y1="2140" x2="643.5" y2="2140" stroke="#000" stroke-width="3.8" stroke-linecap="butt"/>
<line x1="261.5" y1="2140" x2="277.5" y2="2140" stroke="#000" stroke-width="3.6" stroke-linecap="butt"/>
<text transform="translate(254.5,2150.25) scale(1,1.06)" font-size="27" font-weight="bold" text-anchor="end" fill="#000">0</text>
<line x1="261.5" y1="2066.6" x2="277.5" y2="2066.6" stroke="#000" stroke-width="3.6" stroke-linecap="butt"/>
<text transform="translate(254.5,2076.85) scale(1,1.06)" font-size="27" font-weight="bold" text-anchor="end" fill="#000">20</text>
<line x1="261.5" y1="1993.2" x2="277.5" y2="1993.2" stroke="#000" stroke-width="3.6" stroke-linecap="butt"/>
<text transform="translate(254.5,2003.45) scale(1,1.06)" font-size="27" font-weight="bold" text-anchor="end" fill="#000">40</text>
<line x1="261.5" y1="1919.8" x2="277.5" y2="1919.8" stroke="#000" stroke-width="3.6" stroke-linecap="butt"/>
<text transform="translate(254.5,1930.05) scale(1,1.06)" font-size="27" font-weight="bold" text-anchor="end" fill="#000">60</text>
<line x1="261.5" y1="1846.4" x2="277.5" y2="1846.4" stroke="#000" stroke-width="3.6" stroke-linecap="butt"/>
<text transform="translate(254.5,1856.65) scale(1,1.06)" font-size="27" font-weight="bold" text-anchor="end" fill="#000">80</text>
<line x1="261.5" y1="1773" x2="277.5" y2="1773" stroke="#000" stroke-width="3.6" stroke-linecap="butt"/>
<text transform="translate(254.5,1783.25) scale(1,1.06)" font-size="27" font-weight="bold" text-anchor="end" fill="#000">100</text>
<line x1="323.4" y1="2140" x2="323.4" y2="2156" stroke="#000" stroke-width="4.2" stroke-linecap="butt"/>
<text transform="translate(323.4,2187.7) scale(1,1.04)" font-size="27.5" font-weight="bold" text-anchor="middle" fill="#000">G0</text>
<line x1="392" y1="2140" x2="392" y2="2156" stroke="#000" stroke-width="4.2" stroke-linecap="butt"/>
<text transform="translate(392,2187.7) scale(1,1.04)" font-size="27.5" font-weight="bold" text-anchor="middle" fill="#000">G1</text>
<line x1="460.6" y1="2140" x2="460.6" y2="2156" stroke="#000" stroke-width="4.2" stroke-linecap="butt"/>
<text transform="translate(460.6,2187.7) scale(1,1.04)" font-size="27.5" font-weight="bold" text-anchor="middle" fill="#000">S</text>
<line x1="529.2" y1="2140" x2="529.2" y2="2156" stroke="#000" stroke-width="4.2" stroke-linecap="butt"/>
<text transform="translate(529.2,2187.7) scale(1,1.04)" font-size="27.5" font-weight="bold" text-anchor="middle" fill="#000">G2</text>
<line x1="597.8" y1="2140" x2="597.8" y2="2156" stroke="#000" stroke-width="4.2" stroke-linecap="butt"/>
<text transform="translate(597.8,2187.7) scale(1,1.04)" font-size="27.5" font-weight="bold" text-anchor="middle" fill="#000">M</text>
<line x1="323.4" y1="2137.06" x2="323.4" y2="2079.08" stroke="#2b5597" stroke-width="1.6" stroke-linecap="butt"/>
<line x1="311.4" y1="2079.08" x2="335.4" y2="2079.08" stroke="#2b5597" stroke-width="2.2" stroke-linecap="butt"/>
<line x1="311.4" y1="2137.06" x2="335.4" y2="2137.06" stroke="#2b5597" stroke-width="2.2" stroke-linecap="butt"/>
<line x1="392" y1="1992.47" x2="392" y2="1926.04" stroke="#4f2a8e" stroke-width="1.6" stroke-linecap="butt"/>
<line x1="380" y1="1926.04" x2="404" y2="1926.04" stroke="#4f2a8e" stroke-width="2.2" stroke-linecap="butt"/>
<line x1="380" y1="1992.47" x2="404" y2="1992.47" stroke="#4f2a8e" stroke-width="2.2" stroke-linecap="butt"/>
<line x1="460.6" y1="2097.43" x2="460.6" y2="2084.95" stroke="#951c8e" stroke-width="1.6" stroke-linecap="butt"/>
<line x1="448.6" y1="2084.95" x2="472.6" y2="2084.95" stroke="#951c8e" stroke-width="2.2" stroke-linecap="butt"/>
<line x1="448.6" y1="2097.43" x2="472.6" y2="2097.43" stroke="#951c8e" stroke-width="2.2" stroke-linecap="butt"/>
<line x1="529.2" y1="2106.24" x2="529.2" y2="2026.23" stroke="#5a9433" stroke-width="1.6" stroke-linecap="butt"/>
<line x1="517.2" y1="2026.23" x2="541.2" y2="2026.23" stroke="#5a9433" stroke-width="2.2" stroke-linecap="butt"/>
<line x1="517.2" y1="2106.24" x2="541.2" y2="2106.24" stroke="#5a9433" stroke-width="2.2" stroke-linecap="butt"/>
<circle cx="323.4" cy="2074.31" r="7.2" fill="#7fa1d5"/>
<circle cx="308.4" cy="2126.79" r="7.2" fill="#7fa1d5"/>
<circle cx="339.4" cy="2121.28" r="7.2" fill="#7fa1d5"/>
<circle cx="392" cy="1927.14" r="7.2" fill="#a38bd3"/>
<circle cx="392" cy="1957.97" r="7.2" fill="#a38bd3"/>
<circle cx="392" cy="1991.37" r="7.2" fill="#a38bd3"/>
<circle cx="460.6" cy="2083.85" r="7.2" fill="#e690e6"/>
<circle cx="444.8" cy="2096.33" r="7.2" fill="#e690e6"/>
<circle cx="476" cy="2093.76" r="7.2" fill="#e690e6"/>
<circle cx="529.2" cy="2019.62" r="7.2" fill="#b8de88"/>
<circle cx="513.4" cy="2094.12" r="7.2" fill="#b8de88"/>
<circle cx="544.2" cy="2083.11" r="7.2" fill="#b8de88"/>
<circle cx="582.4" cy="2134.49" r="7.2" fill="#2b8cb3"/>
<circle cx="597.8" cy="2130.09" r="7.2" fill="#2b8cb3"/>
<circle cx="614.3" cy="2134.49" r="7.2" fill="#2b8cb3"/>
<path d="M307.7,2020.4 L307.7,1843.5 L386.5,1843.5 L386.5,1862.7" fill="none" stroke="#000" stroke-width="5.6" stroke-linecap="round"/>
<text transform="translate(342.5,1812) scale(0.9,1)" x="-10.96" y="20.9" font-size="43" font-family="'DejaVu Sans', sans-serif" font-weight="bold" stroke="#000" stroke-width="0.35">*</text>
<text transform="translate(861.5,1721.6) scale(1,1.04)" font-size="47" font-weight="bold" text-anchor="middle" fill="#000">D13</text>
<path d="M723.3,2140.2 L723.3,1950.01 L763.7,1950.01 L763.7,2140.2" fill="#bccde9" stroke="#2b5597" stroke-width="5.4"/>
<path d="M791.8,2140.2 L791.8,2061.82 L832.2,2061.82 L832.2,2140.2" fill="#d0c2e6" stroke="#4f2a8e" stroke-width="5.4"/>
<path d="M860.1,2140.2 L860.1,2116.27 L900.5,2116.27 L900.5,2140.2" fill="#f2c6f0" stroke="#951c8e" stroke-width="5.4"/>
<path d="M928.7,2140.2 L928.7,2114.44 L969.1,2114.44 L969.1,2140.2" fill="#dcecc5" stroke="#5a9433" stroke-width="5.4"/>
<path d="M996.8,2140.2 L996.8,2134.54 L1037.2,2134.54 L1037.2,2140.2" fill="#1a6488" stroke="#0f4d70" stroke-width="5.4"/>
<line x1="698.4" y1="1773.2" x2="698.4" y2="2141.8" stroke="#000" stroke-width="3.6" stroke-linecap="butt"/>
<line x1="682.4" y1="2140.2" x2="1063" y2="2140.2" stroke="#000" stroke-width="3.8" stroke-linecap="butt"/>
<line x1="682.4" y1="2140.2" x2="698.4" y2="2140.2" stroke="#000" stroke-width="3.6" stroke-linecap="butt"/>
<text transform="translate(676.2,2150.45) scale(1,1.06)" font-size="27" font-weight="bold" text-anchor="end" fill="#000">0</text>
<line x1="682.4" y1="2067.12" x2="698.4" y2="2067.12" stroke="#000" stroke-width="3.6" stroke-linecap="butt"/>
<text transform="translate(676.2,2077.37) scale(1,1.06)" font-size="27" font-weight="bold" text-anchor="end" fill="#000">20</text>
<line x1="682.4" y1="1994.04" x2="698.4" y2="1994.04" stroke="#000" stroke-width="3.6" stroke-linecap="butt"/>
<text transform="translate(676.2,2004.29) scale(1,1.06)" font-size="27" font-weight="bold" text-anchor="end" fill="#000">40</text>
<line x1="682.4" y1="1920.96" x2="698.4" y2="1920.96" stroke="#000" stroke-width="3.6" stroke-linecap="butt"/>
<text transform="translate(676.2,1931.21) scale(1,1.06)" font-size="27" font-weight="bold" text-anchor="end" fill="#000">60</text>
<line x1="682.4" y1="1847.88" x2="698.4" y2="1847.88" stroke="#000" stroke-width="3.6" stroke-linecap="butt"/>
<text transform="translate(676.2,1858.13) scale(1,1.06)" font-size="27" font-weight="bold" text-anchor="end" fill="#000">80</text>
<line x1="682.4" y1="1774.8" x2="698.4" y2="1774.8" stroke="#000" stroke-width="3.6" stroke-linecap="butt"/>
<text transform="translate(676.2,1785.05) scale(1,1.06)" font-size="27" font-weight="bold" text-anchor="end" fill="#000">100</text>
<line x1="743.5" y1="2140.2" x2="743.5" y2="2156.2" stroke="#000" stroke-width="4.2" stroke-linecap="butt"/>
<text transform="translate(743.5,2187.7) scale(1,1.04)" font-size="27.5" font-weight="bold" text-anchor="middle" fill="#000">G0</text>
<line x1="812" y1="2140.2" x2="812" y2="2156.2" stroke="#000" stroke-width="4.2" stroke-linecap="butt"/>
<text transform="translate(812,2187.7) scale(1,1.04)" font-size="27.5" font-weight="bold" text-anchor="middle" fill="#000">G1</text>
<line x1="880.3" y1="2140.2" x2="880.3" y2="2156.2" stroke="#000" stroke-width="4.2" stroke-linecap="butt"/>
<text transform="translate(880.3,2187.7) scale(1,1.04)" font-size="27.5" font-weight="bold" text-anchor="middle" fill="#000">S</text>
<line x1="948.9" y1="2140.2" x2="948.9" y2="2156.2" stroke="#000" stroke-width="4.2" stroke-linecap="butt"/>
<text transform="translate(948.9,2187.7) scale(1,1.04)" font-size="27.5" font-weight="bold" text-anchor="middle" fill="#000">G2</text>
<line x1="1017" y1="2140.2" x2="1017" y2="2156.2" stroke="#000" stroke-width="4.2" stroke-linecap="butt"/>
<text transform="translate(1017,2187.7) scale(1,1.04)" font-size="27.5" font-weight="bold" text-anchor="middle" fill="#000">M</text>
<line x1="743.5" y1="1961.52" x2="743.5" y2="1933.38" stroke="#2b5597" stroke-width="1.6" stroke-linecap="butt"/>
<line x1="731.5" y1="1933.38" x2="755.5" y2="1933.38" stroke="#2b5597" stroke-width="2.2" stroke-linecap="butt"/>
<line x1="731.5" y1="1961.52" x2="755.5" y2="1961.52" stroke="#2b5597" stroke-width="2.2" stroke-linecap="butt"/>
<line x1="812" y1="2087.22" x2="812" y2="2030.95" stroke="#4f2a8e" stroke-width="1.6" stroke-linecap="butt"/>
<line x1="800" y1="2030.95" x2="824" y2="2030.95" stroke="#4f2a8e" stroke-width="2.2" stroke-linecap="butt"/>
<line x1="800" y1="2087.22" x2="824" y2="2087.22" stroke="#4f2a8e" stroke-width="2.2" stroke-linecap="butt"/>
<line x1="880.3" y1="2125.58" x2="880.3" y2="2100.37" stroke="#951c8e" stroke-width="1.6" stroke-linecap="butt"/>
<line x1="868.3" y1="2100.37" x2="892.3" y2="2100.37" stroke="#951c8e" stroke-width="2.2" stroke-linecap="butt"/>
<line x1="868.3" y1="2125.58" x2="892.3" y2="2125.58" stroke="#951c8e" stroke-width="2.2" stroke-linecap="butt"/>
<line x1="948.9" y1="2124.12" x2="948.9" y2="2099.64" stroke="#5a9433" stroke-width="1.6" stroke-linecap="butt"/>
<line x1="936.9" y1="2099.64" x2="960.9" y2="2099.64" stroke="#5a9433" stroke-width="2.2" stroke-linecap="butt"/>
<line x1="936.9" y1="2124.12" x2="960.9" y2="2124.12" stroke="#5a9433" stroke-width="2.2" stroke-linecap="butt"/>
<line x1="1017" y1="2138.37" x2="1017" y2="2127.41" stroke="#0f4d70" stroke-width="1.6" stroke-linecap="butt"/>
<line x1="1005" y1="2127.41" x2="1029" y2="2127.41" stroke="#0f4d70" stroke-width="2.2" stroke-linecap="butt"/>
<line x1="1005" y1="2138.37" x2="1029" y2="2138.37" stroke="#0f4d70" stroke-width="2.2" stroke-linecap="butt"/>
<circle cx="727.8" cy="1938.86" r="7.2" fill="#7fa1d5"/>
<circle cx="759.4" cy="1938.86" r="7.2" fill="#7fa1d5"/>
<circle cx="743.5" cy="1944.35" r="7.2" fill="#7fa1d5"/>
<circle cx="743.5" cy="1967.73" r="7.2" fill="#7fa1d5"/>
<circle cx="796.3" cy="2042.27" r="7.2" fill="#a38bd3"/>
<circle cx="827.4" cy="2033.5" r="7.2" fill="#a38bd3"/>
<circle cx="812" cy="2061.64" r="7.2" fill="#a38bd3"/>
<circle cx="812" cy="2095.26" r="7.2" fill="#a38bd3"/>
<circle cx="880.3" cy="2095.26" r="7.2" fill="#e690e6"/>
<circle cx="880.3" cy="2112.06" r="7.2" fill="#e690e6"/>
<circle cx="865.2" cy="2126.31" r="7.2" fill="#e690e6"/>
<circle cx="896.2" cy="2117.55" r="7.2" fill="#e690e6"/>
<circle cx="933.8" cy="2102.93" r="7.2" fill="#b8de88"/>
<circle cx="964.8" cy="2098.18" r="7.2" fill="#b8de88"/>
<circle cx="933.8" cy="2124.12" r="7.2" fill="#b8de88"/>
<circle cx="964.8" cy="2117.55" r="7.2" fill="#b8de88"/>
<circle cx="1001.6" cy="2138.74" r="7.2" fill="#2b8cb3"/>
<circle cx="1012" cy="2126.68" r="7.2" fill="#2b8cb3"/>
<circle cx="1032.7" cy="2128.51" r="7.2" fill="#2b8cb3"/>
<circle cx="1022.5" cy="2135.45" r="7.2" fill="#2b8cb3"/>
<path d="M755.8,1857.8 L755.8,1806.2 L948.9,1806.2 L948.9,1969" fill="none" stroke="#000" stroke-width="5.6" stroke-linecap="round"/>
<line x1="828" y1="1968.2" x2="1049.2" y2="1968.2" stroke="#000" stroke-width="5.6" stroke-linecap="round"/>
<text transform="translate(848.4,1774) scale(0.9,1)" x="-10.96" y="20.9" font-size="43" font-family="'DejaVu Sans', sans-serif" font-weight="bold" stroke="#000" stroke-width="0.35">*</text>
<text transform="translate(1290,1721.6) scale(1,1.04)" font-size="47" font-weight="bold" text-anchor="middle" fill="#000">D20</text>
<path d="M1160.5,2141.3 L1160.5,1909.57 L1200.9,1909.57 L1200.9,2141.3" fill="#bccde9" stroke="#2b5597" stroke-width="5.4"/>
<path d="M1229.1,2141.3 L1229.1,2070.88 L1269.5,2070.88 L1269.5,2141.3" fill="#d0c2e6" stroke="#4f2a8e" stroke-width="5.4"/>
<path d="M1297.8,2141.3 L1297.8,2127.95 L1338.2,2127.95 L1338.2,2141.3" fill="#f2c6f0" stroke="#951c8e" stroke-width="5.4"/>
<path d="M1366.1,2141.3 L1366.1,2129.78 L1406.5,2129.78 L1406.5,2141.3" fill="#dcecc5" stroke="#5a9433" stroke-width="5.4"/>
<path d="M1433.8,2141.3 L1433.8,2140.2 L1474.2,2140.2 L1474.2,2141.3" fill="#1a6488" stroke="#0f4d70" stroke-width="5.4"/>
<line x1="1135.6" y1="1773.9" x2="1135.6" y2="2142.9" stroke="#000" stroke-width="3.6" stroke-linecap="butt"/>
<line x1="1120.4" y1="2141.3" x2="1500" y2="2141.3" stroke="#000" stroke-width="3.8" stroke-linecap="butt"/>
<line x1="1120.4" y1="2141.3" x2="1135.6" y2="2141.3" stroke="#000" stroke-width="3.6" stroke-linecap="butt"/>
<text transform="translate(1114.2,2151.55) scale(1,1.06)" font-size="27" font-weight="bold" text-anchor="end" fill="#000">0</text>
<line x1="1120.4" y1="2068.14" x2="1135.6" y2="2068.14" stroke="#000" stroke-width="3.6" stroke-linecap="butt"/>
<text transform="translate(1114.2,2078.39) scale(1,1.06)" font-size="27" font-weight="bold" text-anchor="end" fill="#000">20</text>
<line x1="1120.4" y1="1994.98" x2="1135.6" y2="1994.98" stroke="#000" stroke-width="3.6" stroke-linecap="butt"/>
<text transform="translate(1114.2,2005.23) scale(1,1.06)" font-size="27" font-weight="bold" text-anchor="end" fill="#000">40</text>
<line x1="1120.4" y1="1921.82" x2="1135.6" y2="1921.82" stroke="#000" stroke-width="3.6" stroke-linecap="butt"/>
<text transform="translate(1114.2,1932.07) scale(1,1.06)" font-size="27" font-weight="bold" text-anchor="end" fill="#000">60</text>
<line x1="1120.4" y1="1848.66" x2="1135.6" y2="1848.66" stroke="#000" stroke-width="3.6" stroke-linecap="butt"/>
<text transform="translate(1114.2,1858.91) scale(1,1.06)" font-size="27" font-weight="bold" text-anchor="end" fill="#000">80</text>
<line x1="1120.4" y1="1775.5" x2="1135.6" y2="1775.5" stroke="#000" stroke-width="3.6" stroke-linecap="butt"/>
<text transform="translate(1114.2,1785.75) scale(1,1.06)" font-size="27" font-weight="bold" text-anchor="end" fill="#000">100</text>
<line x1="1180.7" y1="2141.3" x2="1180.7" y2="2157.3" stroke="#000" stroke-width="4.2" stroke-linecap="butt"/>
<text transform="translate(1180.7,2187.7) scale(1,1.04)" font-size="27.5" font-weight="bold" text-anchor="middle" fill="#000">G0</text>
<line x1="1249.3" y1="2141.3" x2="1249.3" y2="2157.3" stroke="#000" stroke-width="4.2" stroke-linecap="butt"/>
<text transform="translate(1249.3,2187.7) scale(1,1.04)" font-size="27.5" font-weight="bold" text-anchor="middle" fill="#000">G1</text>
<line x1="1318" y1="2141.3" x2="1318" y2="2157.3" stroke="#000" stroke-width="4.2" stroke-linecap="butt"/>
<text transform="translate(1318,2187.7) scale(1,1.04)" font-size="27.5" font-weight="bold" text-anchor="middle" fill="#000">S</text>
<line x1="1386.3" y1="2141.3" x2="1386.3" y2="2157.3" stroke="#000" stroke-width="4.2" stroke-linecap="butt"/>
<text transform="translate(1386.3,2187.7) scale(1,1.04)" font-size="27.5" font-weight="bold" text-anchor="middle" fill="#000">G2</text>
<line x1="1454" y1="2141.3" x2="1454" y2="2157.3" stroke="#000" stroke-width="4.2" stroke-linecap="butt"/>
<text transform="translate(1454,2187.7) scale(1,1.04)" font-size="27.5" font-weight="bold" text-anchor="middle" fill="#000">M</text>
<line x1="1180.7" y1="1938.65" x2="1180.7" y2="1864.39" stroke="#2b5597" stroke-width="1.6" stroke-linecap="butt"/>
<line x1="1168.7" y1="1864.39" x2="1192.7" y2="1864.39" stroke="#2b5597" stroke-width="2.2" stroke-linecap="butt"/>
<line x1="1168.7" y1="1938.65" x2="1192.7" y2="1938.65" stroke="#2b5597" stroke-width="2.2" stroke-linecap="butt"/>
<line x1="1249.3" y1="2082.04" x2="1249.3" y2="2051.68" stroke="#4f2a8e" stroke-width="1.6" stroke-linecap="butt"/>
<line x1="1237.3" y1="2051.68" x2="1261.3" y2="2051.68" stroke="#4f2a8e" stroke-width="2.2" stroke-linecap="butt"/>
<line x1="1237.3" y1="2082.04" x2="1261.3" y2="2082.04" stroke="#4f2a8e" stroke-width="2.2" stroke-linecap="butt"/>
<line x1="1318" y1="2133.25" x2="1318" y2="2116.79" stroke="#951c8e" stroke-width="1.6" stroke-linecap="butt"/>
<line x1="1306" y1="2116.79" x2="1330" y2="2116.79" stroke="#951c8e" stroke-width="2.2" stroke-linecap="butt"/>
<line x1="1306" y1="2133.25" x2="1330" y2="2133.25" stroke="#951c8e" stroke-width="2.2" stroke-linecap="butt"/>
<line x1="1386.3" y1="2135.45" x2="1386.3" y2="2120.08" stroke="#5a9433" stroke-width="1.6" stroke-linecap="butt"/>
<line x1="1374.3" y1="2120.08" x2="1398.3" y2="2120.08" stroke="#5a9433" stroke-width="2.2" stroke-linecap="butt"/>
<line x1="1374.3" y1="2135.45" x2="1398.3" y2="2135.45" stroke="#5a9433" stroke-width="2.2" stroke-linecap="butt"/>
<circle cx="1180.7" cy="1866.22" r="7.2" fill="#7fa1d5"/>
<circle cx="1165.4" cy="1902.07" r="7.2" fill="#7fa1d5"/>
<circle cx="1196.3" cy="1903.16" r="7.2" fill="#7fa1d5"/>
<circle cx="1180.7" cy="1948.16" r="7.2" fill="#7fa1d5"/>
<circle cx="1249.3" cy="2045.09" r="7.2" fill="#a38bd3"/>
<circle cx="1249.3" cy="2067.41" r="7.2" fill="#a38bd3"/>
<circle cx="1265.1" cy="2072.9" r="7.2" fill="#a38bd3"/>
<circle cx="1235.1" cy="2079.48" r="7.2" fill="#a38bd3"/>
<circle cx="1303" cy="2114.23" r="7.2" fill="#e690e6"/>
<circle cx="1318" cy="2124.11" r="7.2" fill="#e690e6"/>
<circle cx="1334.4" cy="2128.5" r="7.2" fill="#e690e6"/>
<circle cx="1303" cy="2134.72" r="7.2" fill="#e690e6"/>
<circle cx="1370.5" cy="2120.08" r="7.2" fill="#b8de88"/>
<circle cx="1386.8" cy="2125.57" r="7.2" fill="#b8de88"/>
<circle cx="1401.6" cy="2126.3" r="7.2" fill="#b8de88"/>
<circle cx="1370.5" cy="2137.28" r="7.2" fill="#b8de88"/>
<circle cx="1438.7" cy="2141.3" r="7.2" fill="#2b8cb3"/>
<circle cx="1448.7" cy="2136.18" r="7.2" fill="#2b8cb3"/>
<circle cx="1459.3" cy="2141.3" r="7.2" fill="#2b8cb3"/>
<circle cx="1469.3" cy="2138.74" r="7.2" fill="#2b8cb3"/>
<path d="M1196.1,1818.2 L1196.1,1793.2 L1369.7,1793.2 L1369.7,2001.5" fill="none" stroke="#000" stroke-width="5.6" stroke-linecap="round"/>
<line x1="1269.4" y1="2002" x2="1458" y2="2002" stroke="#000" stroke-width="5.6" stroke-linecap="round"/>
<text transform="translate(1279.3,1760) scale(0.9,1)" x="-10.96" y="20.9" font-size="43" font-family="'DejaVu Sans', sans-serif" font-weight="bold" stroke="#000" stroke-width="0.35">*</text>
<text transform="translate(1698.8,1721.6) scale(1,1.04)" font-size="47" font-weight="bold" text-anchor="middle" fill="#000">D35</text>
<path d="M1584.1,2139.9 L1584.1,1888.1 L1624.5,1888.1 L1624.5,2139.9" fill="#bccde9" stroke="#2b5597" stroke-width="5.4"/>
<path d="M1650.1,2139.9 L1650.1,2102.62 L1690.5,2102.62 L1690.5,2139.9" fill="#d0c2e6" stroke="#4f2a8e" stroke-width="5.4"/>
<path d="M1715.7,2139.9 L1715.7,2129.12 L1756.1,2129.12 L1756.1,2139.9" fill="#f2c6f0" stroke="#951c8e" stroke-width="5.4"/>
<path d="M1781.7,2139.9 L1781.7,2124.53 L1822.1,2124.53 L1822.1,2139.9" fill="#dcecc5" stroke="#5a9433" stroke-width="5.4"/>
<path d="M1847.8,2139.9 L1847.8,2136.19 L1888.2,2136.19 L1888.2,2139.9" fill="#1a6488" stroke="#0f4d70" stroke-width="5.4"/>
<line x1="1560.6" y1="1784.9" x2="1560.6" y2="2141.5" stroke="#000" stroke-width="3.6" stroke-linecap="butt"/>
<line x1="1546.2" y1="2139.9" x2="1912" y2="2139.9" stroke="#000" stroke-width="3.8" stroke-linecap="butt"/>
<line x1="1546.2" y1="2139.9" x2="1560.6" y2="2139.9" stroke="#000" stroke-width="3.6" stroke-linecap="butt"/>
<text transform="translate(1539.7,2150.15) scale(1,1.06)" font-size="27" font-weight="bold" text-anchor="end" fill="#000">0</text>
<line x1="1546.2" y1="2069.22" x2="1560.6" y2="2069.22" stroke="#000" stroke-width="3.6" stroke-linecap="butt"/>
<text transform="translate(1539.7,2079.47) scale(1,1.06)" font-size="27" font-weight="bold" text-anchor="end" fill="#000">20</text>
<line x1="1546.2" y1="1998.54" x2="1560.6" y2="1998.54" stroke="#000" stroke-width="3.6" stroke-linecap="butt"/>
<text transform="translate(1539.7,2008.79) scale(1,1.06)" font-size="27" font-weight="bold" text-anchor="end" fill="#000">40</text>
<line x1="1546.2" y1="1927.86" x2="1560.6" y2="1927.86" stroke="#000" stroke-width="3.6" stroke-linecap="butt"/>
<text transform="translate(1539.7,1938.11) scale(1,1.06)" font-size="27" font-weight="bold" text-anchor="end" fill="#000">60</text>
<line x1="1546.2" y1="1857.18" x2="1560.6" y2="1857.18" stroke="#000" stroke-width="3.6" stroke-linecap="butt"/>
<text transform="translate(1539.7,1867.43) scale(1,1.06)" font-size="27" font-weight="bold" text-anchor="end" fill="#000">80</text>
<line x1="1546.2" y1="1786.5" x2="1560.6" y2="1786.5" stroke="#000" stroke-width="3.6" stroke-linecap="butt"/>
<text transform="translate(1539.7,1796.75) scale(1,1.06)" font-size="27" font-weight="bold" text-anchor="end" fill="#000">100</text>
<line x1="1604.3" y1="2139.9" x2="1604.3" y2="2155.9" stroke="#000" stroke-width="4.2" stroke-linecap="butt"/>
<text transform="translate(1604.3,2187.7) scale(1,1.04)" font-size="27.5" font-weight="bold" text-anchor="middle" fill="#000">G0</text>
<line x1="1670.3" y1="2139.9" x2="1670.3" y2="2155.9" stroke="#000" stroke-width="4.2" stroke-linecap="butt"/>
<text transform="translate(1670.3,2187.7) scale(1,1.04)" font-size="27.5" font-weight="bold" text-anchor="middle" fill="#000">G1</text>
<line x1="1735.9" y1="2139.9" x2="1735.9" y2="2155.9" stroke="#000" stroke-width="4.2" stroke-linecap="butt"/>
<text transform="translate(1735.9,2187.7) scale(1,1.04)" font-size="27.5" font-weight="bold" text-anchor="middle" fill="#000">S</text>
<line x1="1801.9" y1="2139.9" x2="1801.9" y2="2155.9" stroke="#000" stroke-width="4.2" stroke-linecap="butt"/>
<text transform="translate(1801.9,2187.7) scale(1,1.04)" font-size="27.5" font-weight="bold" text-anchor="middle" fill="#000">G2</text>
<line x1="1868" y1="2139.9" x2="1868" y2="2155.9" stroke="#000" stroke-width="4.2" stroke-linecap="butt"/>
<text transform="translate(1868,2187.7) scale(1,1.04)" font-size="27.5" font-weight="bold" text-anchor="middle" fill="#000">M</text>
<line x1="1604.3" y1="1902.06" x2="1604.3" y2="1868.84" stroke="#2b5597" stroke-width="1.6" stroke-linecap="butt"/>
<line x1="1592.3" y1="1868.84" x2="1616.3" y2="1868.84" stroke="#2b5597" stroke-width="2.2" stroke-linecap="butt"/>
<line x1="1592.3" y1="1902.06" x2="1616.3" y2="1902.06" stroke="#2b5597" stroke-width="2.2" stroke-linecap="butt"/>
<line x1="1670.3" y1="2116.22" x2="1670.3" y2="2081.59" stroke="#4f2a8e" stroke-width="1.6" stroke-linecap="butt"/>
<line x1="1658.3" y1="2081.59" x2="1682.3" y2="2081.59" stroke="#4f2a8e" stroke-width="2.2" stroke-linecap="butt"/>
<line x1="1658.3" y1="2116.22" x2="1682.3" y2="2116.22" stroke="#4f2a8e" stroke-width="2.2" stroke-linecap="butt"/>
<line x1="1735.9" y1="2129.3" x2="1735.9" y2="2124.7" stroke="#951c8e" stroke-width="1.6" stroke-linecap="butt"/>
<line x1="1723.9" y1="2124.7" x2="1747.9" y2="2124.7" stroke="#951c8e" stroke-width="2.2" stroke-linecap="butt"/>
<line x1="1723.9" y1="2129.3" x2="1747.9" y2="2129.3" stroke="#951c8e" stroke-width="2.2" stroke-linecap="butt"/>
<line x1="1801.9" y1="2127.18" x2="1801.9" y2="2120.11" stroke="#5a9433" stroke-width="1.6" stroke-linecap="butt"/>
<line x1="1789.9" y1="2120.11" x2="1813.9" y2="2120.11" stroke="#5a9433" stroke-width="2.2" stroke-linecap="butt"/>
<line x1="1789.9" y1="2127.18" x2="1813.9" y2="2127.18" stroke="#5a9433" stroke-width="2.2" stroke-linecap="butt"/>
<line x1="1868" y1="2137.07" x2="1868" y2="2131.07" stroke="#0f4d70" stroke-width="1.6" stroke-linecap="butt"/>
<line x1="1856" y1="2131.07" x2="1880" y2="2131.07" stroke="#0f4d70" stroke-width="2.2" stroke-linecap="butt"/>
<line x1="1856" y1="2137.07" x2="1880" y2="2137.07" stroke="#0f4d70" stroke-width="2.2" stroke-linecap="butt"/>
<circle cx="1604.3" cy="1866.02" r="7.2" fill="#7fa1d5"/>
<circle cx="1589.7" cy="1895.7" r="7.2" fill="#7fa1d5"/>
<circle cx="1620" cy="1892.87" r="7.2" fill="#7fa1d5"/>
<circle cx="1655.4" cy="2089.36" r="7.2" fill="#a38bd3"/>
<circle cx="1685.7" cy="2089.72" r="7.2" fill="#a38bd3"/>
<circle cx="1670.3" cy="2119.76" r="7.2" fill="#a38bd3"/>
<circle cx="1721.9" cy="2128.94" r="7.2" fill="#e690e6"/>
<circle cx="1736.7" cy="2124.7" r="7.2" fill="#e690e6"/>
<circle cx="1750.2" cy="2125.41" r="7.2" fill="#e690e6"/>
<circle cx="1787.9" cy="2127.18" r="7.2" fill="#b8de88"/>
<circle cx="1803.3" cy="2120.82" r="7.2" fill="#b8de88"/>
<circle cx="1817.6" cy="2120.11" r="7.2" fill="#b8de88"/>
<circle cx="1853.1" cy="2137.07" r="7.2" fill="#2b8cb3"/>
<circle cx="1868" cy="2131.07" r="7.2" fill="#2b8cb3"/>
<circle cx="1882.9" cy="2135.31" r="7.2" fill="#2b8cb3"/>
<path d="M1605.2,1833 L1605.2,1803.3 L1787.6,1803.3 L1787.6,2006" fill="none" stroke="#000" stroke-width="5.6" stroke-linecap="round"/>
<line x1="1678.7" y1="2007.4" x2="1874.2" y2="2007.4" stroke="#000" stroke-width="5.6" stroke-linecap="round"/>
<text transform="translate(1693,1771.5) scale(0.9,1)" x="-10.96" y="20.9" font-size="43" font-family="'DejaVu Sans', sans-serif" font-weight="bold" stroke="#000" stroke-width="0.35">*</text>
</svg>
</body></html>
